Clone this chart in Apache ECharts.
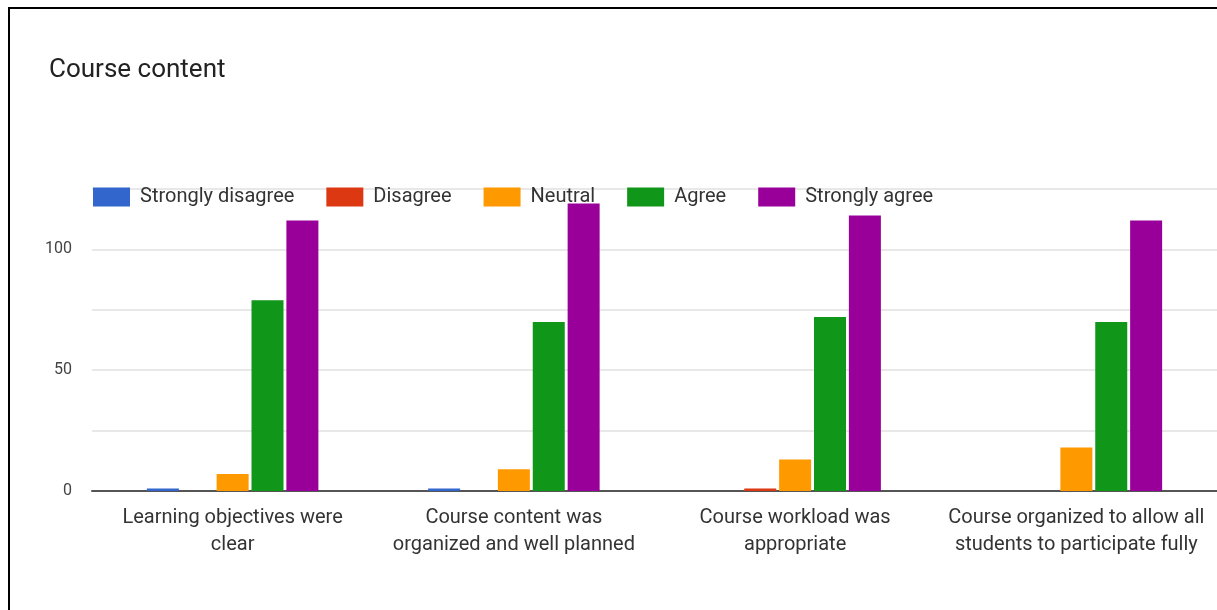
<!DOCTYPE html>
<html>
<head>
<meta charset="utf-8">
<script src="https://cdn.jsdelivr.net/npm/echarts@6/dist/echarts.min.js"></script>
<style>
html,body{margin:0;padding:0;background:#fff;}
#frame{position:absolute;left:8px;top:7px;width:1230px;height:640px;border-left:2px solid #000;border-top:2px solid #000;}
#chart{position:absolute;left:0;top:0;width:1217px;height:610px;}
</style>
</head>
<body>
<div id="frame"></div>
<div id="chart"></div>
<script>
const titleText = 'Course content';
const categories = [
  'Learning objectives were\nclear',
  'Course content was\norganized and well planned',
  'Course workload was\nappropriate',
  'Course organized to allow all\nstudents to participate fully'
];
const seriesNames = ['Strongly disagree', 'Disagree', 'Neutral', 'Agree', 'Strongly agree'];
const stronglyDisagree = [1, 1, 0, 0];
const disagree = [0, 0, 1, 0];
const neutral = [7, 9, 13, 18];
const agree = [79, 70, 72, 70];
const stronglyAgree = [112, 119, 114, 112];
const colors = ['#3366cc', '#dc3912', '#ff9900', '#109618', '#990099'];
const values = [stronglyDisagree, disagree, neutral, agree, stronglyAgree];

const chart = echarts.init(document.getElementById('chart'));
chart.setOption({
  animation: false,
  backgroundColor: 'transparent',
  color: colors,
  title: {
    text: titleText,
    left: 44, top: 52,
    textStyle: {fontFamily: 'Roboto', fontSize: 26, fontWeight: 'normal', color: '#222'}
  },
  legend: {
    left: 88, top: 182,
    itemWidth: 37, itemHeight: 19, itemGap: 32,
    icon: 'rect',
    textStyle: {fontFamily: 'Roboto', fontSize: 20, color: '#333', padding: [0, 0, 0, 5]},
    data: seriesNames
  },
  grid: {left: 92, top: 189, width: 1132, bottom: 119, containLabel: false},
  xAxis: {
    type: 'category',
    data: categories,
    axisTick: {show: false},
    axisLine: {lineStyle: {color: '#555', width: 2}},
    axisLabel: {interval: 0, fontFamily: 'Roboto', fontSize: 20, color: '#333', lineHeight: 27, margin: 13}
  },
  yAxis: {
    type: 'value',
    min: 0, max: 125, interval: 25,
    axisLine: {show: false},
    axisTick: {show: false},
    axisLabel: {
      fontFamily: 'Roboto', fontSize: 16, color: '#444', margin: 20,
      formatter: v => (v % 50 === 0 ? String(v) : '')
    },
    splitLine: {lineStyle: {color: '#e0e0e0', width: 1.5}}
  },
  series: seriesNames.map((n, i) => ({
    name: n,
    type: 'bar',
    data: values[i],
    barWidth: 32,
    barGap: '9%',
    itemStyle: {color: colors[i]}
  }))
});
</script>
</body>
</html>
